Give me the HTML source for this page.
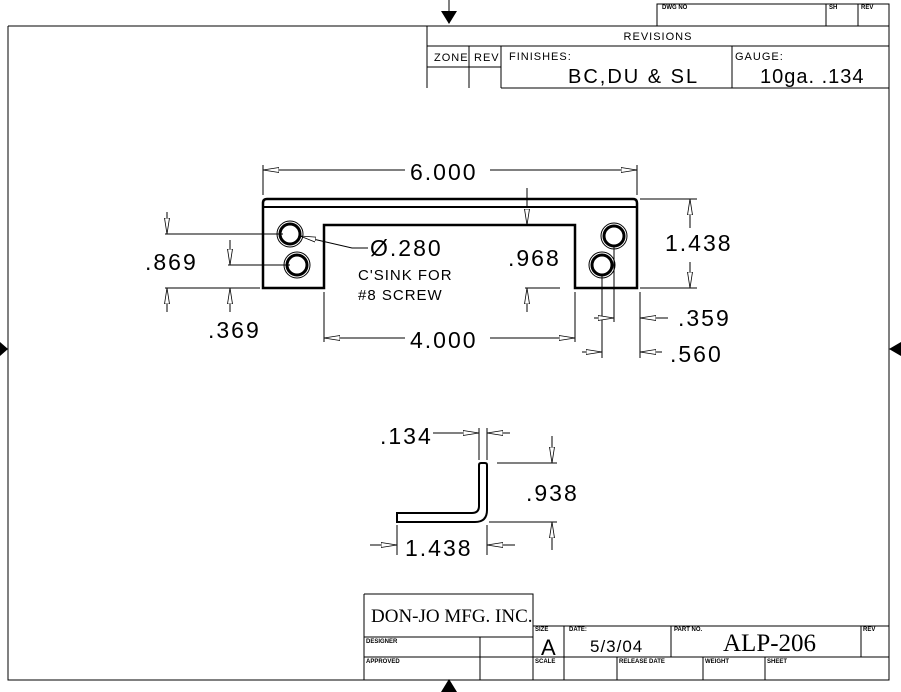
<!DOCTYPE html>
<html><head><meta charset="utf-8"><style>
html,body{margin:0;padding:0;background:#fff;}
svg{display:block;}
text{font-family:"Liberation Sans",sans-serif;fill:#000;}
.d{font-size:23px;letter-spacing:2px;font-weight:normal;}
.s{font-size:6px;font-weight:bold;}
.m{font-size:11px;letter-spacing:1px;}
</style></head><body>
<svg width="901" height="692" viewBox="0 0 901 692" xmlns="http://www.w3.org/2000/svg">
<defs>
<marker id="a" markerWidth="16" markerHeight="6" refX="16" refY="3" orient="auto" markerUnits="userSpaceOnUse">
<path d="M0,0.5 L16,3 L0,5.5 Z" fill="#fff" stroke="#000" stroke-width="0.8"/></marker>
</defs>
<g stroke="#000" fill="none" stroke-width="1">
<path d="M8,26 H889 M8,26 V680 H889 V4 H657 V26"/>
<path d="M826,4 V26 M858,4 V26"/>
<path d="M427,26 V88 M427,46 H889 M469,46 V88 M501,46 V88 M427,67 H501 M501,88 H889 M732,46 V88"/>
<path d="M364,594 H533 V680 M364,594 V680 M364,637 H533 M533,626 H889 M364,657 H889 M480,637 V680 M564,626 V680 M671,626 V657 M861,626 V657 M617,657 V680 M703,657 V680 M765,657 V680"/>
</g>
<path d="M449,0 V12" stroke="#000"/>
<path d="M441,11 H457 L449,24 Z" fill="#000"/>
<path d="M441,692 H457 L449,679 Z" fill="#000"/>
<path d="M0,342 V356 L8,349 Z" fill="#000"/>
<path d="M901,342 V356 L889,349 Z" fill="#000"/>

<text x="662" y="9" class="s">DWG NO</text>
<text x="829" y="9" class="s">SH</text>
<text x="861" y="9" class="s">REV</text>
<text x="658" y="40" class="m" text-anchor="middle">REVISIONS</text>
<text x="434" y="61" class="m">ZONE</text>
<text x="474" y="61" class="m">REV</text>
<text x="509" y="60" class="m">FINISHES:</text>
<text x="735" y="60" class="m">GAUGE:</text>
<text x="568" y="83" style="font-size:20px;letter-spacing:2px">BC,DU &amp; SL</text>
<text x="760" y="83" style="font-size:20px;letter-spacing:1px">10ga. .134</text>

<text x="371" y="622" style="font-family:'Liberation Serif',serif;font-size:19px">DON-JO MFG. INC.</text>
<text x="366" y="643" class="s">DESIGNER</text>
<text x="366" y="663" class="s">APPROVED</text>
<text x="535" y="631" class="s">SIZE</text>
<text x="541" y="655" style="font-size:22px">A</text>
<text x="569" y="631" class="s">DATE:</text>
<text x="590" y="652" style="font-size:17px;letter-spacing:1px">5/3/04</text>
<text x="674" y="631" class="s">PART NO.</text>
<text x="723" y="651" style="font-family:'Liberation Serif',serif;font-size:25px">ALP-206</text>
<text x="863" y="631" class="s">REV</text>
<text x="535" y="663" class="s">SCALE</text>
<text x="619" y="663" class="s">RELEASE DATE</text>
<text x="705" y="663" class="s">WEIGHT</text>
<text x="767" y="663" class="s">SHEET</text>

<g stroke="#000" fill="none">
<path d="M263,288 V203 Q263,199 267,199 H633 Q637,199 637,203 V288 H575 V225 H324 V288 Z" stroke-width="2.5"/>
<path d="M263,207 H637" stroke-width="2"/>
<circle cx="290" cy="234" r="10" stroke-width="3"/><circle cx="290" cy="234" r="13" stroke-width="1"/>
<circle cx="297" cy="265" r="10" stroke-width="3"/><circle cx="297" cy="265" r="13" stroke-width="1"/>
<circle cx="614" cy="236" r="10" stroke-width="3"/><circle cx="614" cy="236" r="13" stroke-width="1"/>
<circle cx="602" cy="265" r="10" stroke-width="3"/><circle cx="602" cy="265" r="13" stroke-width="1"/>
</g>
<g stroke="#000" stroke-width="1" fill="none">
<path d="M263,165 V195 M637,165 V195"/>
<path d="M405,170 H263" marker-end="url(#a)"/><path d="M490,170 H637" marker-end="url(#a)"/>
<path d="M640,199 H697 M640,288 H697"/>
<path d="M690,228 V199" marker-end="url(#a)"/><path d="M690,262 V288" marker-end="url(#a)"/>
<path d="M165,234 H283 M165,288 H260"/>
<path d="M167,212 V234" marker-end="url(#a)"/><path d="M167,312 V288" marker-end="url(#a)"/>
<path d="M228,265 H290"/>
<path d="M230,240 V265" marker-end="url(#a)"/><path d="M230,312 V288" marker-end="url(#a)"/>
<path d="M368,248 H352 L300,236" marker-end="url(#a)"/>
<path d="M525,288 H560"/>
<path d="M527,215 V225" marker-end="url(#a)"/><path d="M527,188 V207"/><path d="M527,312 V288" marker-end="url(#a)"/>
<path d="M324,292 V342 M575,292 V342"/>
<path d="M405,338 H324" marker-end="url(#a)"/><path d="M490,338 H575" marker-end="url(#a)"/>
<path d="M614,246 V322 M602,275 V358 M640,292 V358"/>
<path d="M594,318 H614" marker-end="url(#a)"/><path d="M668,318 H640" marker-end="url(#a)"/>
<path d="M582,352 H602" marker-end="url(#a)"/><path d="M662,352 H640" marker-end="url(#a)"/>
</g>
<text x="410" y="180" class="d">6.000</text>
<text x="665" y="251" class="d">1.438</text>
<text x="145" y="270" class="d">.869</text>
<text x="208" y="338" class="d">.369</text>
<text x="370" y="256" class="d">Ø.280</text>
<text x="358" y="280" style="font-size:15px;letter-spacing:1px">C'SINK FOR</text>
<text x="358" y="300" style="font-size:15px;letter-spacing:1px">#8 SCREW</text>
<text x="508" y="266" class="d">.968</text>
<text x="410" y="348" class="d">4.000</text>
<text x="678" y="326" class="d">.359</text>
<text x="670" y="362" class="d">.560</text>

<path d="M479,465 Q479,463 481,463 H485 Q487,463 487,465 V510 Q487,522 475,522 H397 V513 H472 Q479,513 479,506 Z" fill="none" stroke="#000" stroke-width="2"/>
<g stroke="#000" stroke-width="1" fill="none">
<path d="M479,428 V460 M487,428 V460"/>
<path d="M433,433 H479" marker-end="url(#a)"/><path d="M510,433 H487" marker-end="url(#a)"/>
<path d="M497,463 H557 M489,522 H557"/>
<path d="M552,436 V463" marker-end="url(#a)"/><path d="M552,550 V522" marker-end="url(#a)"/>
<path d="M397,525 V555 M487,525 V555"/>
<path d="M370,545 H397" marker-end="url(#a)"/><path d="M515,545 H487" marker-end="url(#a)"/>
</g>
<text x="380" y="444" class="d">.134</text>
<text x="526" y="501" class="d">.938</text>
<text x="405" y="556" class="d">1.438</text>
</svg>
</body></html>
